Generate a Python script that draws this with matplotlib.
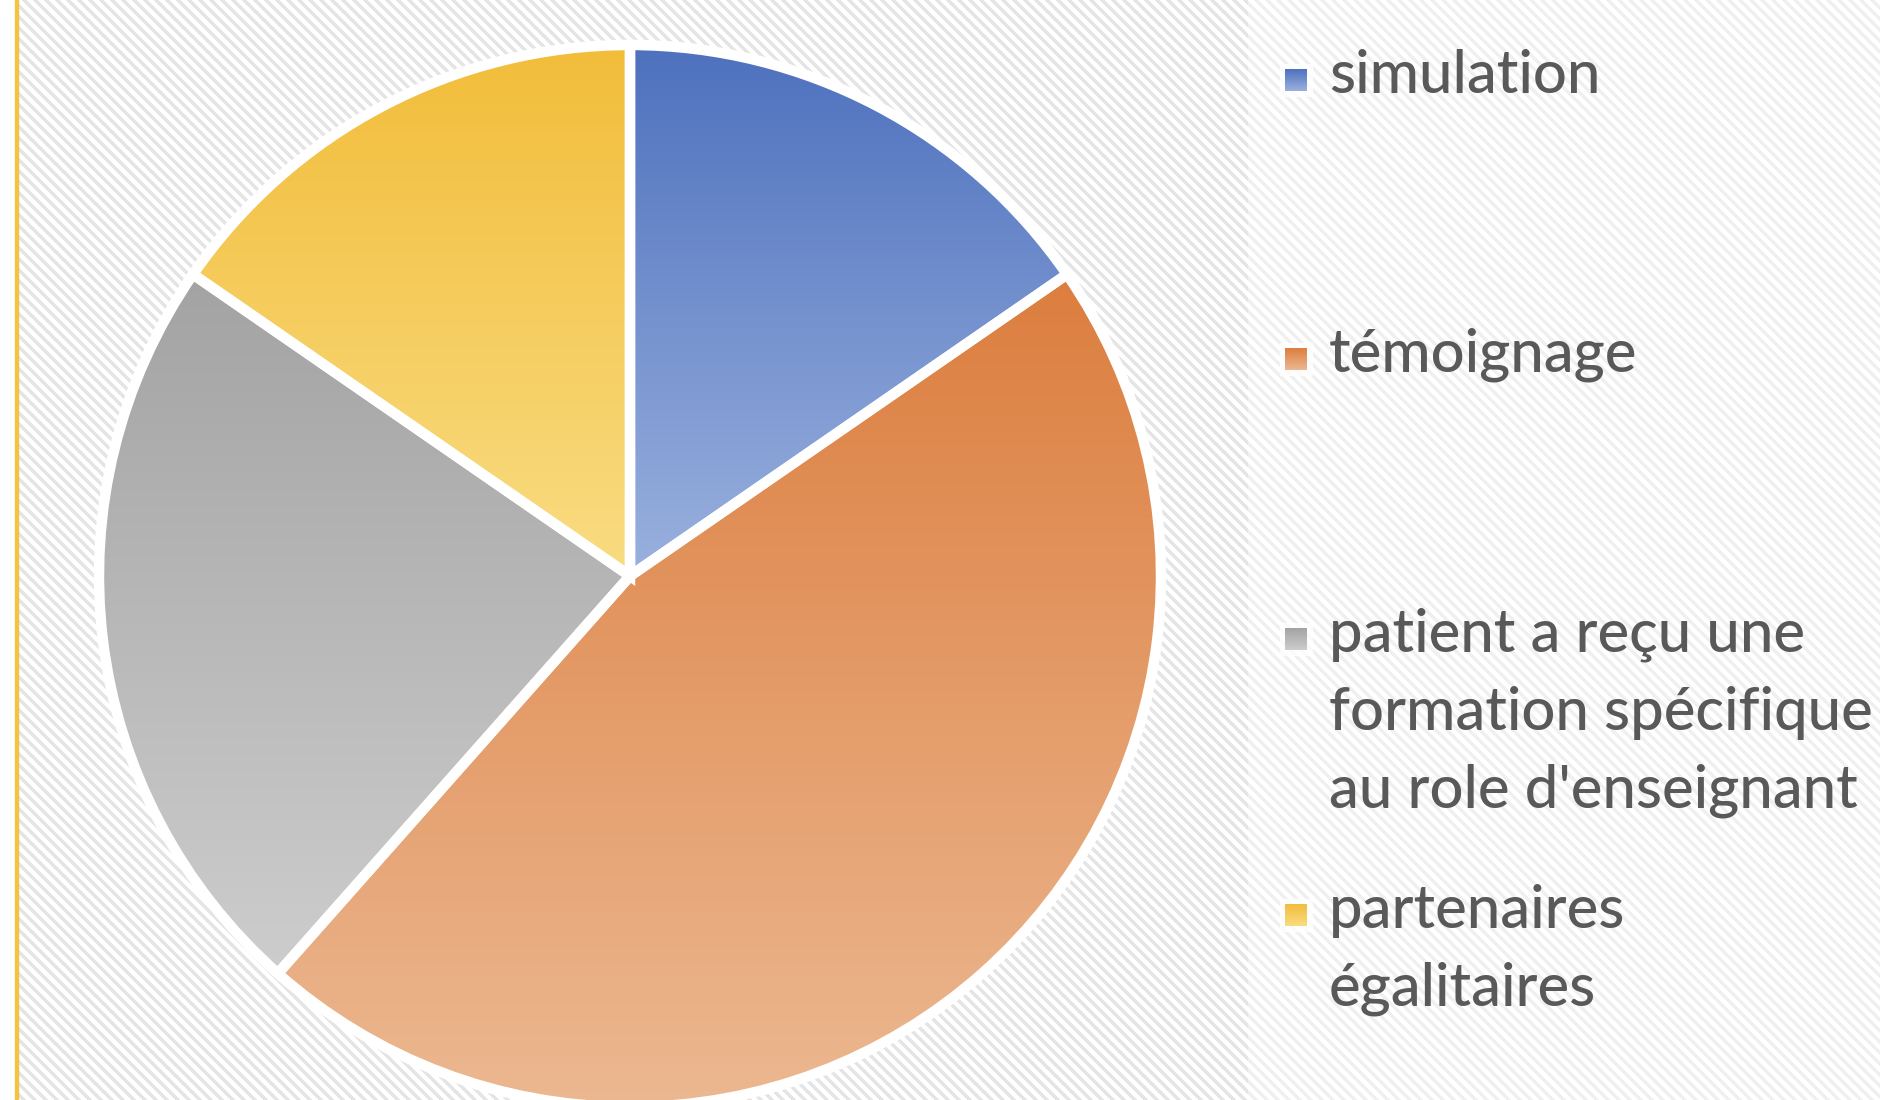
import numpy as np
import matplotlib.pyplot as plt
from matplotlib.colors import LinearSegmentedColormap
from matplotlib.patches import Rectangle

# pie data
labels = ['simulation', 'témoignage',
          "patient a reçu une\nformation spécifique\nau role d'enseignant",
          'partenaires\négalitaires']
values = [2, 6, 3, 2]
top_colors = ['#4e71be', '#dc7e3f', '#a3a3a3', '#f2bd3a']
bottom_colors = ['#9ab1de', '#ecb891', '#cdcdcd', '#f9dc82']

W, H = 1881, 1100
fig = plt.figure(figsize=(W / 100, H / 100), dpi=100)
ax = fig.add_axes([0, 0, 1, 1])

# striped background
rows, cols = np.mgrid[0:H, 0:W]
stripe = ((cols - rows) % 11) < 5
bg = np.ones((H, W, 3))
bg[stripe] = 0.9
bg[:, :17] = 1.0
# lighter legend area
legend_zone = cols >= 1248
bg[stripe & legend_zone] = 0.945
ax.imshow(bg, extent=(0, W, 0, H), origin='upper', zorder=0, interpolation='nearest')
ax.add_patch(Rectangle((15, 0), 3, H, color='#f5c242', zorder=1))

# pie
wedges, _ = ax.pie(values, center=(630, H - 576), radius=531, startangle=90,
                   counterclock=False, frame=True,
                   wedgeprops=dict(edgecolor='white', linewidth=7.5, facecolor='none'))

grad = np.linspace(0, 1, 256).reshape(-1, 1)
for w, c0, c1 in zip(wedges, top_colors, bottom_colors):
    w.set_zorder(3)
    ext = w.get_path().get_extents()
    cmap = LinearSegmentedColormap.from_list('g', [c0, c1])
    im = ax.imshow(grad, cmap=cmap, aspect='auto', origin='upper',
                   extent=(ext.x0, ext.x1, ext.y0, ext.y1), zorder=2)
    im.set_clip_path(w)

# legend
entry_y = [76, 355, 635, 911]
line_step = 78
for lab, c0, c1, y in zip(labels, top_colors, bottom_colors, entry_y):
    yy = H - y - 4
    cmap = LinearSegmentedColormap.from_list('g', [c0, c1])
    ax.add_patch(Rectangle((1280, yy - 16), 32, 32, color='white', alpha=0.8, zorder=3))
    ax.imshow(grad, cmap=cmap, aspect='auto', origin='upper',
              extent=(1285, 1307, yy - 11, yy + 11), zorder=4)
    for i, line in enumerate(lab.split('\n')):
        ax.text(1329, H - y - i * line_step, line, va='center', ha='left',
                fontsize=43, family='Lato', fontweight='medium',
                color='#595959', zorder=4)

ax.set_xlim(0, W)
ax.set_ylim(0, H)
ax.axis('off')
fig.savefig('out.png', dpi=100)
